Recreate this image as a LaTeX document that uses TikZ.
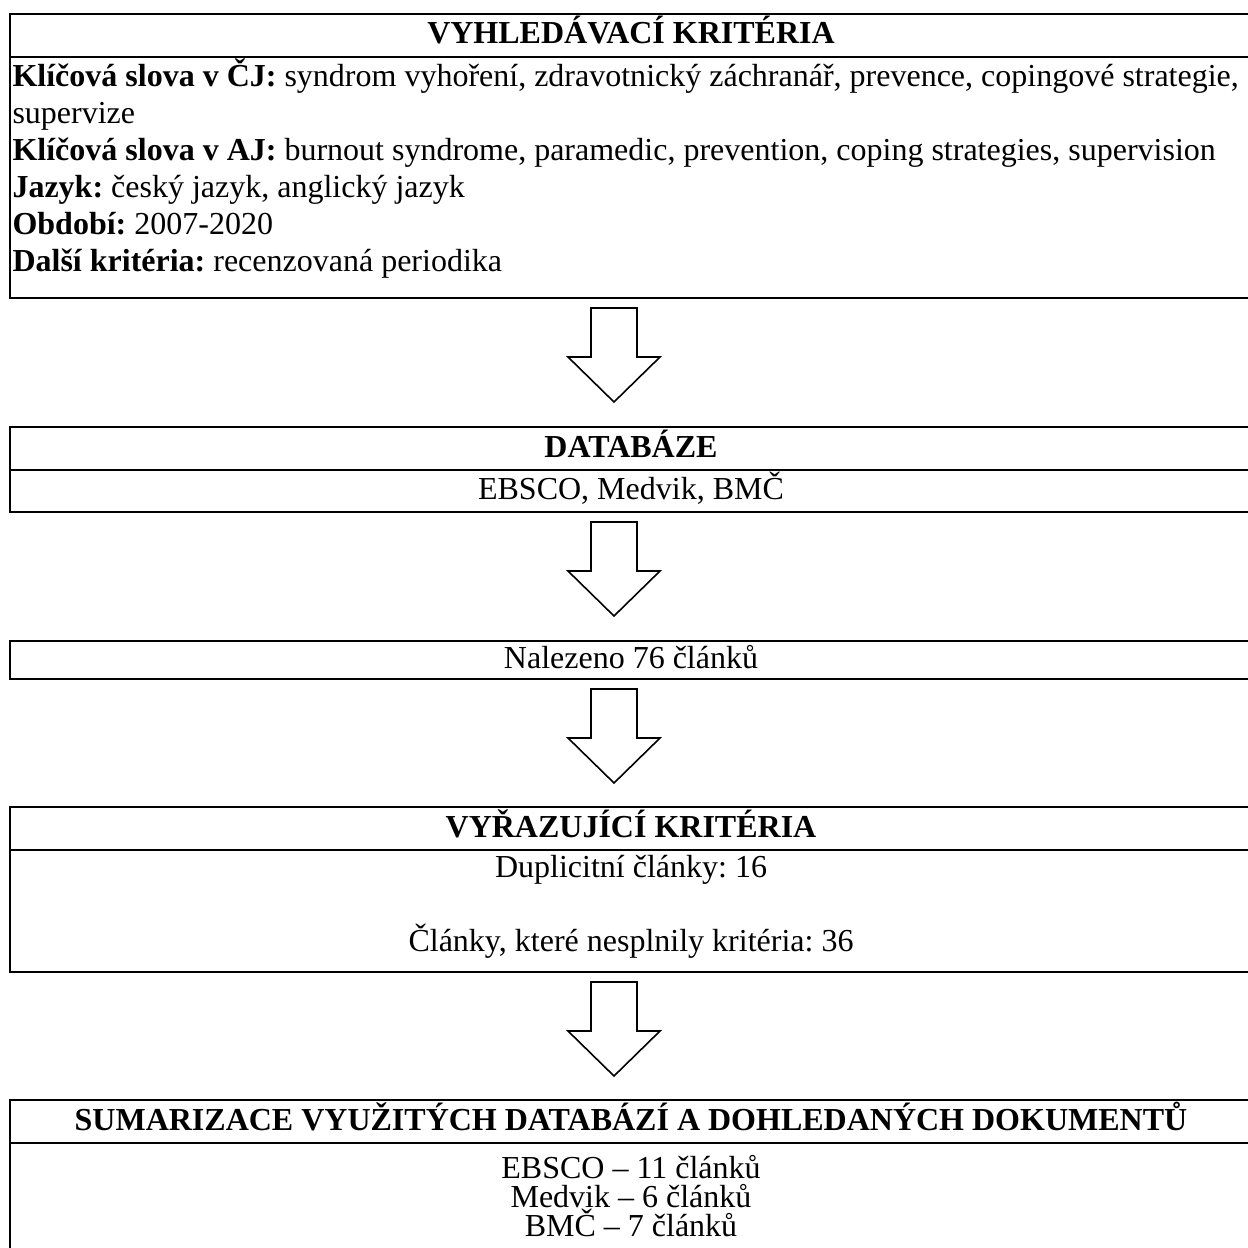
\documentclass[tikz,border=0pt]{standalone}
\usepackage{fontspec}
\setmainfont{Liberation Serif}
\frenchspacing
\tikzset{
  tbl/.style={line width=.75pt},
  txt/.style={inner sep=0pt, anchor=base},
  lft/.style={txt, anchor=base west},
  hdr/.style={txt, font=\fontsize{12pt}{13.9pt}\selectfont\bfseries},
  downarrow/.style={draw, line width=.6pt, line join=miter},
}
\begin{document}
\begin{tikzpicture}[x=.375pt,y=-.375pt,font=\fontsize{12pt}{13.9pt}\selectfont]
\path[use as bounding box] (0,0) rectangle (1248,1248);
\clip (0,0) rectangle (1248,1248);

% vyhledavaci kriteria
\draw[tbl] (10,14) rectangle (1252,298) (10,57) -- (1252,57);
\node[hdr] (krit) at (631,44) {VYHLEDÁVACÍ KRITÉRIA};
\node[lft] (cj) at (12,87) {\textbf{Klíčová slova v ČJ:} syndrom vyhoření, zdravotnický záchranář, prevence, copingové strategie,};
\node[lft] (cjb) at (12,124) {supervize};
\node[lft] (aj) at (12,161) {\textbf{Klíčová slova v AJ:} burnout syndrome, paramedic, prevention, coping strategies, supervision};
\node[lft] (jaz) at (12,198) {\textbf{Jazyk:} český jazyk, anglický jazyk};
\node[lft] (obd) at (12,235) {\textbf{Období:} 2007-2020};
\node[lft] (dal) at (12,272) {\textbf{Další kritéria:} recenzovaná periodika};

% databaze
\draw[tbl] (10,427) rectangle (1252,512) (10,470) -- (1252,470);
\node[hdr] (db) at (631,457) {DATABÁZE};
\node[txt] (dbl) at (631,499) {EBSCO, Medvik, BMČ};

% nalezeno
\draw[tbl] (10,641) rectangle (1252,679);
\node[txt] (nal) at (631,668) {Nalezeno 76 článků};

% vyrazujici kriteria
\draw[tbl] (10,807) rectangle (1252,972) (10,850) -- (1252,850);
\node[hdr] (vyr) at (631,837) {VYŘAZUJÍCÍ KRITÉRIA};
\node[txt] (dup) at (631,877) {Duplicitní články: 16};
\node[txt] (nes) at (631,951) {Články, které nesplnily kritéria: 36};

% sumarizace
\draw[tbl] (10,1100) rectangle (1252,1270) (10,1143) -- (1252,1143);
\node[hdr] (sum) at (631,1130) {SUMARIZACE VYUŽITÝCH DATABÁZÍ A DOHLEDANÝCH DOKUMENTŮ};
\node[txt] (ebs) at (631,1178) {EBSCO – 11 článků};
\node[txt] (med) at (631,1207) {Medvik – 6 článků};
\node[txt] (bmc) at (631,1236) {BMČ – 7 článků};

% sipky
\foreach \y in {308,522,689,982}
  \draw[downarrow] (591,\y) -- (591,\y+49) -- (568,\y+49) -- (614,\y+94)
    -- (660,\y+49) -- (637,\y+49) -- (637,\y) -- cycle;
\end{tikzpicture}
\end{document}
